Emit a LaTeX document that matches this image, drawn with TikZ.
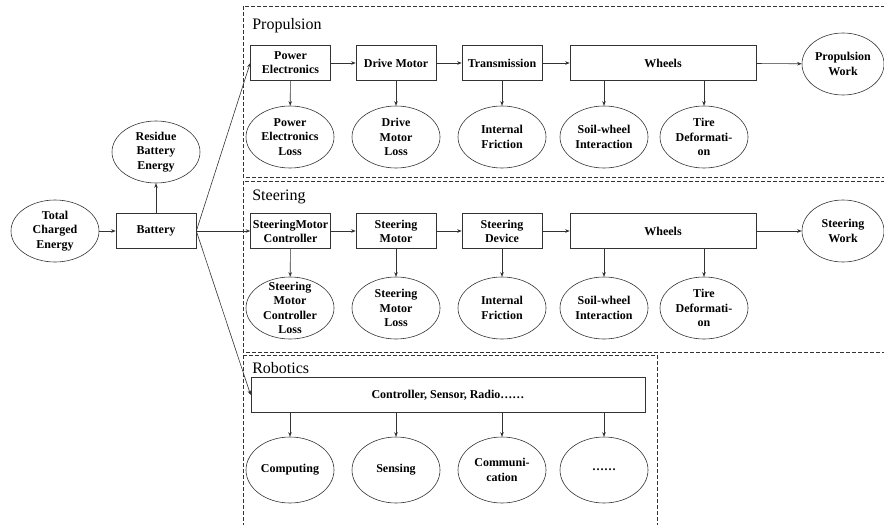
\documentclass[tikz,border=0pt]{standalone}
\usepackage{fontspec}
\setmainfont{Liberation Serif}
\usetikzlibrary{arrows.meta,shapes.geometric}
\definecolor{ink}{HTML}{333333}

\begin{document}
\begin{tikzpicture}[x=1pt,y=-1pt,>={Stealth[length=4.5pt,width=3.5pt]},line width=0.6pt,
    conn/.style={->,draw=ink},
    box/.style={draw=ink,inner sep=1pt,minimum width=80pt,minimum height=35pt,
      font=\bfseries\fontsize{12}{14}\selectfont,align=center},
    oval/.style={draw=ink,ellipse,minimum width=88pt,minimum height=62pt,inner sep=0pt},
    txt/.style={font=\bfseries\fontsize{12}{14.5}\selectfont,align=center,inner sep=0pt},
    group/.style={draw=ink,dash pattern=on 4pt off 2pt},
    title/.style={anchor=west,font=\fontsize{16}{18}\selectfont,inner sep=0pt}]
    \useasboundingbox (0,0) rectangle (884,525);

    % dashed groups
    \draw[group] (243,6) rectangle (900,177);
    \draw[group] (243,181) rectangle (900,352);
    \draw[group] (243,355) rectangle (657,540);
    \node[title] (ptitle) at (252,26) {Propulsion};
    \node[title] (stitle) at (252,197) {Steering};
    \node[title] (rtitle) at (252,368) {Robotics};

    % battery
    \node[oval] (tce) at (55,231) {};
    \node[txt] at (tce) {Total\\Charged\\Energy};
    \node[box] (bat) at (156,231) {Battery};
    \node[oval] (rbe) at (156,152) {};
    \node[txt] at (rbe) {Residue\\Battery\\Energy};
    \draw[conn] (tce) -- (bat);
    \draw[conn] (bat) -- (rbe);

    % propulsion
    \node[box] (pe) at (290.5,63) {Power\\Electronics};
    \node[box] (dm) at (396,63) {Drive Motor};
    \node[box] (tr) at (502,63) {Transmission};
    \node[box,minimum width=186pt] (pw) at (663,63) {Wheels};
    \node[oval,minimum width=82pt] (pwork) at (843,64) {};
    \node[txt] at (pwork) {Propulsion\\Work};
    \node[oval] (pel) at (290,137) {};
    \node[txt] at (pel) {Power\\Electronics\\Loss};
    \node[oval] (dml) at (396,137) {};
    \node[txt] at (dml) {Drive\\Motor\\Loss};
    \node[oval] (pif) at (502,137) {};
    \node[txt] at (pif) {Internal\\Friction};
    \node[oval] (psw) at (604,137) {};
    \node[txt] at (psw) {Soil-wheel\\Interaction};
    \node[oval] (ptd) at (704,137) {};
    \node[txt] at (ptd) {Tire\\Deformati-\\on};
    \draw[conn] (pe) -- (dm);
    \draw[conn] (dm) -- (tr);
    \draw[conn] (tr) -- (pw);
    \draw[conn] (pw) -- (pwork);
    \foreach \a/\b in {pe/pel,dm/dml,tr/pif}
    {
        \draw[conn] (\a) -- (\b);
    }
    \draw[conn] (pw.south -| psw.north) -- (psw.north);
    \draw[conn] (pw.south -| ptd.north) -- (ptd.north);

    % steering
    \node[box] (sc) at (290.5,231) {SteeringMotor\\Controller};
    \node[box] (sm) at (396,231) {Steering\\Motor};
    \node[box] (sd) at (502,231) {Steering\\Device};
    \node[box,minimum width=186pt] (sw) at (663,231) {Wheels};
    \node[oval,minimum width=82pt] (swork) at (843,231) {};
    \node[txt] at (swork) {Steering\\Work};
    \node[oval] (scl) at (290,308) {};
    \node[txt] at (scl) {Steering\\Motor\\Controller\\Loss};
    \node[oval] (sml) at (396,308) {};
    \node[txt] at (sml) {Steering\\Motor\\Loss};
    \node[oval] (sif) at (502,308) {};
    \node[txt] at (sif) {Internal\\Friction};
    \node[oval] (ssw) at (604,308) {};
    \node[txt] at (ssw) {Soil-wheel\\Interaction};
    \node[oval] (std) at (704,308) {};
    \node[txt] at (std) {Tire\\Deformati-\\on};
    \draw[conn] (sc) -- (sm);
    \draw[conn] (sm) -- (sd);
    \draw[conn] (sd) -- (sw);
    \draw[conn] (sw) -- (swork);
    \foreach \a/\b in {sc/scl,sm/sml,sd/sif}
    {
        \draw[conn] (\a) -- (\b);
    }
    \draw[conn] (sw.south -| ssw.north) -- (ssw.north);
    \draw[conn] (sw.south -| std.north) -- (std.north);

    % robotics
    \node[box,minimum width=394pt] (rb) at (448,395) {Controller, Sensor, Radio……};
    \node[oval,minimum height=66pt] (rcp) at (290,470) {};
    \node[txt] at (rcp) {Computing};
    \node[oval,minimum height=66pt] (rsn) at (396,470) {};
    \node[txt] at (rsn) {Sensing};
    \node[oval,minimum height=66pt] (rcm) at (502,470) {};
    \node[txt] at (rcm) {Communi-\\cation};
    \node[oval,minimum height=66pt] (rdt) at (604,470) {};
    \node[txt] at (rdt) {……};
    \foreach \b in {rcp,rsn,rcm,rdt}
    {
        \draw[conn] (rb.south -| \b.north) -- (\b.north);
    }

    % battery to groups
    \draw[conn] (bat.east) -- (pe.west);
    \draw[conn] (bat.east) -- (sc.west);
    \draw[conn] (bat.east) -- (rb.west);
\end{tikzpicture}
\end{document}
